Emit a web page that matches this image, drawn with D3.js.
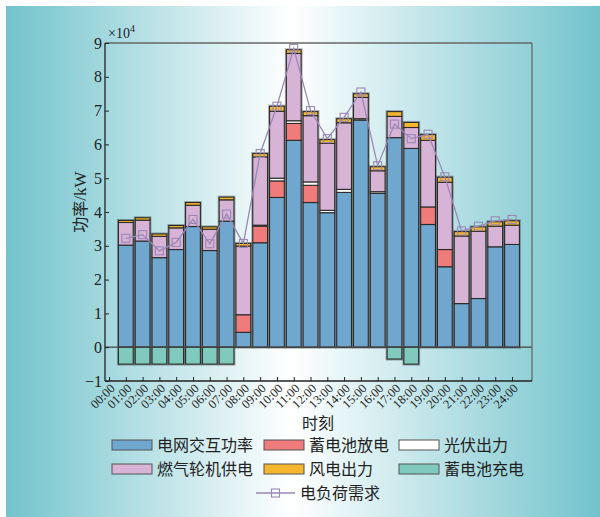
<!DOCTYPE html>
<html>
<head>
<meta charset="utf-8">
<script src="https://cdn.jsdelivr.net/npm/d3@7"></script>
<style>
  html, body { margin: 0; padding: 0; background: #fff; }
  svg { display: block; }
</style>
</head>
<body>
<div id="chart"></div>
<script>
// values in units of 1e4 kW
const hours = d3.range(25).map(h => String(h).padStart(2, '0') + ':00');
const barHours = d3.range(1, 25);
const gridPower = [3.02, 3.14, 2.65, 2.89, 3.57, 2.86, 3.73, 0.44, 3.09, 4.43, 6.12, 4.28, 3.98, 4.58, 6.72, 4.55, 6.20, 5.88, 3.63, 2.38, 1.29, 1.44, 2.97, 3.04];
const batteryDischarge = [0, 0, 0, 0, 0, 0, 0, 0.52, 0.49, 0.49, 0.50, 0.51, 0, 0, 0, 0, 0, 0, 0.52, 0.51, 0, 0, 0, 0];
const pvOutput = [0, 0, 0, 0, 0, 0, 0, 0, 0.03, 0.08, 0.08, 0.10, 0.07, 0.09, 0.04, 0.05, 0, 0, 0, 0, 0, 0, 0, 0];
const gasTurbine = [0.67, 0.62, 0.63, 0.64, 0.63, 0.63, 0.63, 2.03, 2.02, 1.98, 1.99, 1.96, 1.98, 1.97, 0.63, 0.62, 0.63, 0.62, 1.97, 1.99, 2.00, 1.99, 0.61, 0.57];
const windOutput = [0.06, 0.07, 0.07, 0.07, 0.08, 0.07, 0.08, 0.08, 0.10, 0.15, 0.11, 0.12, 0.11, 0.12, 0.11, 0.12, 0.14, 0.15, 0.17, 0.15, 0.13, 0.13, 0.13, 0.13];
const batteryCharge = [-0.5, -0.5, -0.5, -0.5, -0.5, -0.5, -0.5, 0, 0, 0, 0, 0, 0, 0, 0, 0, -0.35, -0.5, 0, 0, 0, 0, 0, 0];
const loadDemand = [3.22, 3.33, 2.85, 3.10, 3.78, 3.06, 3.94, 3.07, 5.73, 7.13, 8.84, 7.00, 6.17, 6.80, 7.55, 5.37, 6.60, 6.17, 6.30, 5.04, 3.44, 3.58, 3.74, 3.78];
const yTicks = d3.range(-1, 10);

const seriesNames = ['电网交互功率', '蓄电池放电', '光伏出力', '燃气轮机供电', '风电出力', '蓄电池充电'];
const seriesColors = ['#6fa7cf', '#ef7b7b', '#ffffff', '#d7b3d6', '#f6b62e', '#80cabd'];

(function() {
    'use strict';

    const width = 600, height = 517;
    const plot = { left: 105, right: 532, top: 43, bottom: 381 };
    const serif = '"Liberation Serif", "Times New Roman", serif';
    const cjk = '"Noto Sans CJK SC", "Noto Sans", sans-serif';

    const svg = d3.select('#chart').append('svg')
        .attr('width', width)
        .attr('height', height);

    // background gradient panel
    const grad = svg.append('defs').append('linearGradient')
        .attr('id', 'bg')
        .attr('x1', '0%').attr('x2', '100%').attr('y1', '0%').attr('y2', '0%');
    grad.append('stop').attr('offset', '0%').attr('stop-color', '#72c3cc');
    grad.append('stop').attr('offset', '48%').attr('stop-color', '#ffffff');
    grad.append('stop').attr('offset', '100%').attr('stop-color', '#72c3cc');
    svg.append('rect')
        .attr('x', 6).attr('y', 6)
        .attr('width', width - 6).attr('height', height - 6)
        .attr('fill', 'url(#bg)');

    const x = d3.scaleLinear().domain([-0.24, 25.19]).range([plot.left, plot.right]);
    const y = d3.scaleLinear().domain([-1, 9]).range([plot.bottom, plot.top]);
    const barW = (x(1) - x(0)) * 0.88;

    // stacked bar segments
    const positive = [gridPower, batteryDischarge, pvOutput, gasTurbine, windOutput];
    const segments = [];
    barHours.forEach((h, i) => {
        let base = 0;
        positive.forEach((arr, k) => {
            const v = arr[i];
            if (v > 0) {
                segments.push({ h, k, y0: base, y1: base + v });
                base += v;
            }
        });
        if (batteryCharge[i] < 0) {
            segments.push({ h, k: 5, y0: batteryCharge[i], y1: 0 });
        }
    });

    // soft grey halo around each bar
    const halos = d3.rollups(segments, v => [d3.min(v, d => d.y0), d3.max(v, d => d.y1)], d => d.h);
    svg.append('g').selectAll('rect')
        .data(halos)
        .join('rect')
        .attr('x', d => x(d[0]) - barW / 2)
        .attr('width', barW)
        .attr('y', d => y(d[1][1]))
        .attr('height', d => y(d[1][0]) - y(d[1][1]))
        .attr('fill', 'none')
        .attr('stroke', 'rgba(60,60,60,0.4)')
        .attr('stroke-width', 3);

    svg.append('g').selectAll('rect')
        .data(segments)
        .join('rect')
        .attr('x', d => x(d.h) - barW / 2)
        .attr('width', barW)
        .attr('y', d => y(d.y1))
        .attr('height', d => y(d.y0) - y(d.y1))
        .attr('fill', d => seriesColors[d.k])
        .attr('stroke', '#2a2a2a')
        .attr('stroke-width', 1.1);

    // zero line
    svg.append('line')
        .attr('x1', plot.left).attr('x2', plot.right)
        .attr('y1', y(0)).attr('y2', y(0))
        .attr('stroke', '#444').attr('stroke-width', 1.3);

    // demand line
    const line = d3.line().x((d, i) => x(barHours[i])).y(d => y(d));
    svg.append('path')
        .datum(loadDemand)
        .attr('d', line)
        .attr('fill', 'none')
        .attr('stroke', '#9a88b6')
        .attr('stroke-width', 1.3);
    svg.append('g').selectAll('rect')
        .data(loadDemand)
        .join('rect')
        .attr('x', (d, i) => x(barHours[i]) - 4)
        .attr('y', d => y(d) - 4)
        .attr('width', 8).attr('height', 8)
        .attr('fill', 'none')
        .attr('stroke', '#9a88b6')
        .attr('stroke-width', 1.1);

    // frame
    svg.append('line')
        .attr('x1', plot.left).attr('x2', plot.right)
        .attr('y1', plot.top).attr('y2', plot.top)
        .attr('stroke', '#666').attr('stroke-width', 1.3);
    svg.append('line')
        .attr('x1', plot.right).attr('x2', plot.right)
        .attr('y1', plot.top).attr('y2', plot.bottom)
        .attr('stroke', '#666').attr('stroke-width', 1.3);

    // axes (ticks point inward)
    const xAxis = svg.append('g')
        .attr('transform', `translate(0,${plot.bottom})`)
        .call(d3.axisBottom(x).tickValues(d3.range(25)).tickFormat(i => hours[i]).tickSize(-4).tickSizeOuter(0));
    xAxis.select('.domain').attr('stroke', '#222').attr('stroke-width', 1.3)
        .attr('d', `M${plot.left},0H${plot.right}`);
    xAxis.selectAll('.tick line').attr('stroke', '#222');
    xAxis.selectAll('.tick text')
        .attr('font-family', serif)
        .attr('font-size', 12.5)
        .attr('fill', '#222')
        .attr('text-anchor', 'end')
        .attr('transform', 'translate(3,5) rotate(-45)')
        .attr('dy', '0.35em')
        .attr('y', 0);

    const yAxis = svg.append('g')
        .attr('transform', `translate(${plot.left},0)`)
        .call(d3.axisLeft(y).tickValues(yTicks).tickFormat(d3.format('d')).tickSize(-4).tickSizeOuter(0));
    yAxis.select('.domain').attr('stroke', '#222').attr('stroke-width', 1.3)
        .attr('d', `M0,${plot.top}V${plot.bottom}`);
    yAxis.selectAll('.tick line').attr('stroke', '#222');
    yAxis.selectAll('.tick text')
        .attr('font-family', serif)
        .attr('font-size', 16)
        .attr('fill', '#222')
        .attr('x', -3);

    // exponent label
    const expo = svg.append('text')
        .attr('x', 108).attr('y', 38)
        .attr('font-family', serif)
        .attr('font-size', 14)
        .attr('fill', '#222');
    expo.append('tspan').text('×10');
    expo.append('tspan').attr('font-size', 10).attr('dy', -6).text('4');

    // axis titles
    const yTitle = svg.append('text')
        .attr('transform', `translate(86,${(plot.top + plot.bottom) / 2 - 10}) rotate(-90)`)
        .attr('text-anchor', 'middle')
        .attr('font-size', 16)
        .attr('fill', '#222');
    yTitle.append('tspan').attr('font-family', cjk).text('功率');
    yTitle.append('tspan').attr('font-family', serif).attr('font-size', 17).text('/kW');
    svg.append('text')
        .attr('x', 318).attr('y', 429)
        .attr('text-anchor', 'middle')
        .attr('font-family', cjk)
        .attr('font-size', 16)
        .attr('fill', '#222')
        .text('时刻');

    // legend
    const colX = [112, 264, 399];
    const rowY = [445, 469];
    const legend = svg.append('g');
    seriesNames.forEach((name, k) => {
        const cx = colX[k % 3], cy = rowY[Math.floor(k / 3)];
        legend.append('rect')
            .attr('x', cx).attr('y', cy - 5)
            .attr('width', 40).attr('height', 10)
            .attr('fill', seriesColors[k])
            .attr('stroke', '#555').attr('stroke-width', 1);
        legend.append('text')
            .attr('x', cx + 45).attr('y', cy)
            .attr('dy', '0.35em')
            .attr('font-family', cjk)
            .attr('font-size', 16)
            .attr('fill', '#222')
            .text(name);
    });
    legend.append('line')
        .attr('x1', 256).attr('x2', 295).attr('y1', 493).attr('y2', 493)
        .attr('stroke', '#9a88b6').attr('stroke-width', 1.3);
    legend.append('rect')
        .attr('x', 271.5).attr('y', 489).attr('width', 8).attr('height', 8)
        .attr('fill', 'none').attr('stroke', '#9a88b6').attr('stroke-width', 1.1);
    legend.append('text')
        .attr('x', 300).attr('y', 493)
        .attr('dy', '0.35em')
        .attr('font-family', cjk)
        .attr('font-size', 16)
        .attr('fill', '#222')
        .text('电负荷需求');
})();
</script>
</body>
</html>
